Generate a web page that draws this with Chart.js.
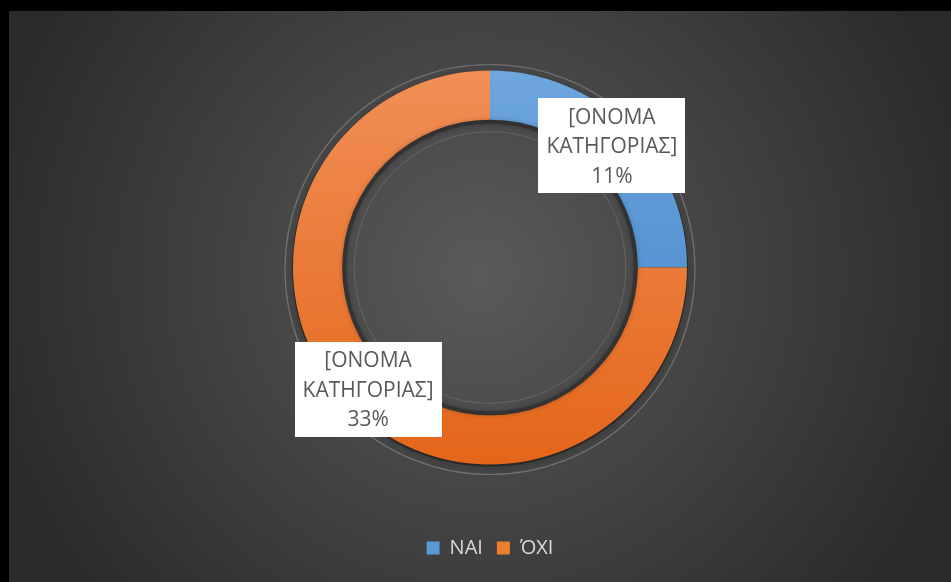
<!DOCTYPE html>
<html>
<head>
<meta charset="utf-8">
<script src="https://cdn.jsdelivr.net/npm/chart.js@4/dist/chart.umd.min.js"></script>
<style>
  html, body { margin: 0; padding: 0; background: #000; overflow: hidden; }
  #wrap {
    position: absolute; left: 9px; top: 11px; width: 942px; height: 571px;
    background: radial-gradient(circle 500px at 50% 46%, #5a5a5a 0%, #2b2b2b 100%);
  }
</style>
</head>
<body>
<div id="wrap"><canvas id="chart" width="942" height="571"></canvas></div>
<script>
// Δεδομένα
const categories    = ['ΝΑΙ', 'ΌΧΙ'];
const values        = [1, 3];
const percentLabels = ['11%', '33%'];
const nameLines     = ['[ΟΝΟΜΑ', 'ΚΑΤΗΓΟΡΙΑΣ]'];

const TOP_COLOR    = ['#6ea7de', '#f18f56'];
const BOTTOM_COLOR = ['#3f80c6', '#e4661a'];
const SOLID_COLOR  = ['#5b9bd5', '#ed7d31'];

function _sliceFill(ctx) {
  const chart = ctx.chart;
  const area  = chart.chartArea;
  if (!area) return SOLID_COLOR[ctx.dataIndex];
  const cy = (area.top + area.bottom) / 2;
  const r  = Math.min(area.right - area.left, area.bottom - area.top) / 2;
  const g  = chart.ctx.createLinearGradient(0, cy - r, 0, cy + r);
  g.addColorStop(0, TOP_COLOR[ctx.dataIndex]);
  g.addColorStop(1, BOTTOM_COLOR[ctx.dataIndex]);
  return g;
}

// anillos de sombra alrededor del donut
const ringDecor = {
  id: 'ringDecor',
  beforeDatasetsDraw(chart) {
    const arc = chart.getDatasetMeta(0).data[0];
    if (!arc) return;
    const { x, y, outerRadius, innerRadius } = arc.getProps(['x', 'y', 'outerRadius', 'innerRadius'], true);
    const c = chart.ctx;
    c.save();
    c.beginPath();
    c.arc(x, y + 2, outerRadius + 8, 0, Math.PI * 2);
    c.strokeStyle = 'rgba(150,150,150,0.55)';
    c.lineWidth = 1.2;
    c.stroke();
    // sombra del anillo (solo la corona)
    c.beginPath();
    c.arc(x, y + 1, outerRadius + 1, 0, Math.PI * 2);
    c.arc(x, y + 1, innerRadius + 4, 0, Math.PI * 2, true);
    c.fillStyle = 'rgba(0,0,0,0.35)';
    c.shadowColor = 'rgba(0,0,0,0.5)';
    c.shadowBlur = 8;
    c.shadowOffsetY = 3;
    c.fill('evenodd');
    c.restore();
  },
  afterDatasetsDraw(chart) {
    const arc = chart.getDatasetMeta(0).data[0];
    if (!arc) return;
    const { x, y, innerRadius } = arc.getProps(['x', 'y', 'innerRadius'], true);
    const c = chart.ctx;
    c.save();
    c.beginPath();
    c.arc(x, y, innerRadius - 2, 0, Math.PI * 2);
    c.strokeStyle = 'rgba(35,35,35,0.5)';
    c.lineWidth = 4;
    c.shadowColor = 'rgba(0,0,0,0.45)';
    c.shadowBlur = 5;
    c.stroke();
    c.shadowBlur = 0;
    c.beginPath();
    c.arc(x, y, innerRadius - 12, 0, Math.PI * 2);
    c.strokeStyle = 'rgba(130,130,130,0.45)';
    c.lineWidth = 1;
    c.stroke();
    c.restore();
  },
};

// etiquetas blancas con nombre de categoría y porcentaje
const boxLabels = {
  id: 'boxLabels',
  afterDatasetsDraw(chart) {
    const c = chart.ctx;
    const meta = chart.getDatasetMeta(0);
    meta.data.forEach((el, i) => {
      const p = el.tooltipPosition(true);
      const w = 147, h = 95;
      c.save();
      c.fillStyle = '#ffffff';
      c.fillRect(Math.round(p.x - w / 2), Math.round(p.y - h / 2), w, h);
      c.fillStyle = '#595959';
      c.font = '21px "Open Sans", sans-serif';
      c.textAlign = 'center';
      c.textBaseline = 'middle';
      const lines = [...nameLines, percentLabels[i]];
      lines.forEach((t, k) => c.fillText(t, p.x, p.y - 28 + k * 29.5));
      c.restore();
    });
  },
};

new Chart(document.getElementById('chart'), {
  type: 'doughnut',
  data: {
    labels: categories,
    datasets: [{
      data: values,
      backgroundColor: _sliceFill,
      borderWidth: 0,
      hoverOffset: 0,
    }],
  },
  options: {
    responsive: false,
    animation: false,
    cutout: '75%',
    layout: { padding: { left: 284, right: 264, top: 0, bottom: 14 } },
    plugins: {
      tooltip: { enabled: false },
      legend: {
        position: 'bottom',
        labels: {
          color: '#d9d9d9',
          boxWidth: 13,
          boxHeight: 13,
          padding: 14,
          font: { size: 20, family: '"Open Sans", sans-serif' },
          generateLabels: (chart) => categories.map((name, i) => ({
            text: name,
            fillStyle: SOLID_COLOR[i],
            strokeStyle: SOLID_COLOR[i],
            lineWidth: 0,
            fontColor: '#d9d9d9',
            index: i,
          })),
        },
      },
    },
  },
  plugins: [ringDecor, boxLabels],
});
</script>
</body>
</html>
